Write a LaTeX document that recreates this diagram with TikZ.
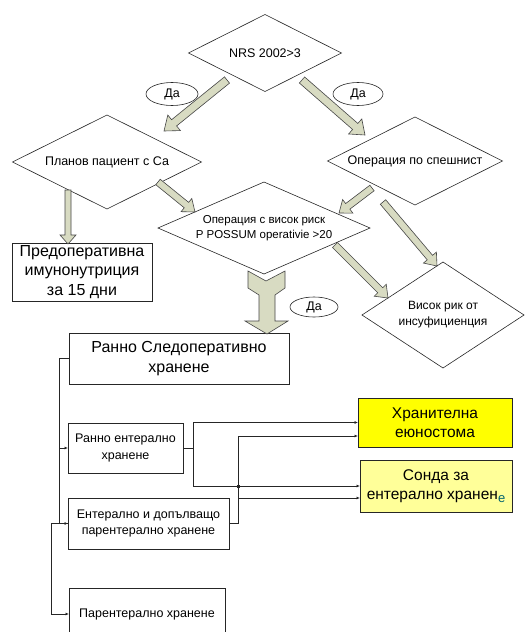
\documentclass[tikz,border=0pt]{standalone}
\usepackage{fontspec}
\setmainfont{Liberation Sans}
\usetikzlibrary{calc,arrows.meta,shapes.geometric}
\definecolor{arrfill}{RGB}{216,219,194}
\definecolor{edgegray}{RGB}{70,70,70}
\definecolor{hjyellow}{RGB}{255,255,0}
\definecolor{sondayellow}{RGB}{255,255,153}
\definecolor{tealE}{RGB}{0,100,110}

% block arrow: start, end, shaft half-width, head half-width, head length
\newcommand{\blockarr}[5]{%
  \coordinate (ba-h) at ($(#2)!#5!(#1)$);
  \path[blockarrow] ($(#1)!#3!90:(#2)$) -- ($(ba-h)!#3!90:(#2)$) -- ($(ba-h)!#4!90:(#2)$)
     -- (#2) -- ($(ba-h)!#4!-90:(#2)$) -- ($(ba-h)!#3!-90:(#2)$) -- ($(#1)!#3!-90:(#2)$) -- cycle;
}

\begin{document}
\begin{tikzpicture}[x=1pt,y=-1pt,
  dtext/.style={inner sep=0pt, outer sep=0pt, align=center, font=\fontsize{12.5}{16}\selectfont},
  dline/.style={draw=black!85, line width=0.6pt, line join=miter},
  box/.style={draw=black!85, line width=0.7pt, inner sep=0pt, outer sep=0pt, align=center},
  blockarrow/.style={fill=arrfill, draw=edgegray, line width=0.6pt, line join=miter},
  yes/.style={ellipse, draw=black!85, line width=0.6pt, inner sep=0pt, outer sep=0pt, font=\fontsize{12.5}{14}\selectfont},
  conn/.style={draw=black!85, line width=0.7pt, -{Latex[length=3.5pt,width=3pt]}},
  bigtxt/.style={font=\fontsize{16}{19.5}\selectfont},
  smalltxt/.style={font=\fontsize{12.5}{16.5}\selectfont}
]
\useasboundingbox (0,0) rectangle (526,632);
\clip (0,0) rectangle (526,632);
\fill[white] (0,0) rectangle (526,632);

% ---------- diamonds ----------
\node[dtext, minimum width=153pt, minimum height=77pt] (nrs) at (265,53) {NRS 2002>3};
\draw[dline] (nrs.west) -- (nrs.north) -- (nrs.east) -- (nrs.south) -- cycle;

\node[dtext, minimum width=189pt, minimum height=94pt] (plan) at (107,162) {Планов пациент с Са};
\draw[dline] (plan.west) -- (plan.north) -- (plan.east) -- (plan.south) -- cycle;

\node[dtext, minimum width=175pt, minimum height=88pt] (urg) at (415,161) {Операция по спешнист};
\draw[dline] (urg.west) -- (urg.north) -- (urg.east) -- (urg.south) -- cycle;

\node[dtext, minimum width=212pt, minimum height=92pt, font=\fontsize{11.5}{15}\selectfont] (risk) at (264,228)
  {Операция с висок риск\\P POSSUM operativie >20};
\draw[dline] (risk.west) -- (risk.north) -- (risk.east) -- (risk.south) -- cycle;

\node[dtext, minimum width=162pt, minimum height=106pt, font=\fontsize{12}{16}\selectfont] (ins) at (443,315)
  {Висок рик от\\инсуфициенция};
\draw[dline] (ins.west) -- (ins.north) -- (ins.east) -- (ins.south) -- cycle;

% ---------- "Да" labels ----------
\node[yes, minimum width=52pt, minimum height=23pt] (yes1) at (172,94) {Да};
\node[yes, minimum width=50pt, minimum height=23pt] (yes2) at (358,94) {Да};
\node[yes, minimum width=48pt, minimum height=20pt] (yes3) at (314,307) {Да};

% ---------- boxes ----------
\node[box, bigtxt, minimum width=140pt, minimum height=58pt] (pre) at (82,272)
  {Предоперативна\\имунонутриция\\за 15 дни};
\node[box, bigtxt, minimum width=220pt, minimum height=51pt] (post) at (179,358.5)
  {Ранно Следоперативно\\хранене};
\node[box, smalltxt, minimum width=115pt, minimum height=50pt] (re) at (125.5,448)
  {Ранно ентерално\\хранене};
\node[box, smalltxt, minimum width=161pt, minimum height=51pt] (ent) at (148.5,523.5)
  {Ентерално и допълващо\\парентерално хранене};
\node[box, smalltxt, minimum width=156pt, minimum height=52pt] (par) at (147,614)
  {Парентерално хранене};
\node[box, bigtxt, fill=hjyellow, minimum width=154pt, minimum height=49pt,
      font=\fontsize{15.5}{18.5}\selectfont] (hj) at (435,422.5)
  {Хранителна\\еюностома};
\node[box, bigtxt, fill=sondayellow, minimum width=152pt, minimum height=52pt,
      font=\fontsize{15.5}{19.5}\selectfont] (sonda) at (436,486)
  {Сонда за\\ентерално хранен{\color{tealE}\fontsize{13}{13}\selectfont\raisebox{-3pt}{е}}};

% ---------- block arrows ----------
\coordinate (a1s) at (227,80);  \coordinate (a1e) at (164,131);
\coordinate (a2s) at (302,80);  \coordinate (a2e) at (365,135);
\coordinate (a3s) at (158,182); \coordinate (a3e) at (195,212);
\coordinate (a4s) at (372,188); \coordinate (a4e) at (339,213);
\coordinate (a5s) at (383,202); \coordinate (a5e) at (437,266);
\coordinate (a6s) at (335,245); \coordinate (a6e) at (388,298);
\coordinate (a7s) at (68,190);  \coordinate (a7e) at (68,244);
\blockarr{a1s}{a1e}{4pt}{10pt}{13pt}
\blockarr{a2s}{a2e}{4pt}{10pt}{13pt}
\blockarr{a3s}{a3e}{3.5pt}{8.5pt}{11pt}
\blockarr{a4s}{a4e}{3.5pt}{8.5pt}{11pt}
\blockarr{a5s}{a5e}{3.5pt}{8.5pt}{11pt}
\blockarr{a6s}{a6e}{3.5pt}{8.5pt}{11pt}
\blockarr{a7s}{a7e}{3pt}{8pt}{9pt}

% big notched arrow from risk to post
\coordinate (bigtip) at (267,334);
\path[blockarrow] (248,271) -- (266,281) -- (285,271) -- (285,288) -- (275,295) -- (275,321)
  -- (288,321) -- (bigtip) -- (245,321) -- (259,321) -- (259,295) -- (248,288) -- cycle;

% ---------- connectors ----------
\draw[conn] (post.west) -- ++(-10,0) |- (re.west);
\draw[conn] (post.west) -- ++(-10,0) |- (ent.west);
\draw[conn] (ent.west) -- ++(-17,0) |- (par.west);

\draw[conn] (re.east) -- ++(10,0) |- (hj.west);
\draw[conn] (re.east) -- ++(10,0) |- (sonda.west);
\draw[conn] (ent.east) -- ++(9,0) |- ($(hj.west)+(0,13.5)$);
\draw[conn] (ent.east) -- ++(9,0) |- ($(sonda.west)+(0,12)$);
\coordinate (jn) at (238,486);
\fill[black!85] ($(jn)+(-1.5,-1.5)$) rectangle ($(jn)+(1.5,1.5)$);

\end{tikzpicture}
\end{document}
